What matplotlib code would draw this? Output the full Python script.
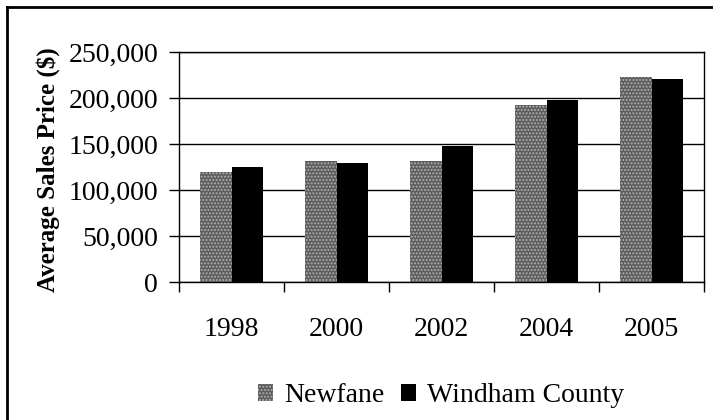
import numpy as np
import matplotlib.pyplot as plt
from matplotlib.ticker import FuncFormatter
from matplotlib.lines import Line2D

# data
years = ['1998', '2000', '2002', '2004', '2005']
newfane = [119500, 131500, 131000, 192500, 222500]
windham = [125500, 129500, 148000, 197500, 220500]

plt.rcParams['font.family'] = ['Liberation Serif', 'DejaVu Serif']

fig = plt.figure(figsize=(7.13, 4.2), dpi=100)
ax = fig.add_axes([179/713, 1 - 282/420, (704 - 179)/713, (282 - 52)/420])

x = np.arange(len(years))
w = 0.3
ax.bar(x - w/2, newfane, w, facecolor='#5c5c5c', edgecolor='#b0b0b0',
       hatch='.....', linewidth=0, label='Newfane', zorder=3)
ax.bar(x + w/2, windham, w, color='black', linewidth=0,
       label='Windham County', zorder=3)

ax.set_xlim(-0.5, len(years) - 0.5)
ax.set_ylim(0, 250000)
ax.set_yticks(np.arange(0, 250001, 50000))
ax.yaxis.set_major_formatter(FuncFormatter(lambda v, p: f'{int(v):,}'))
ax.grid(axis='y', color='black', linewidth=1, zorder=0)

# years centred under each group, tick marks between the groups
ax.set_xticks(x)
ax.set_xticklabels(years)
ax.set_xticks(np.arange(-0.5, len(years)), minor=True)
ax.tick_params(axis='x', which='major', length=0, pad=25, labelsize=20)
ax.tick_params(axis='x', which='minor', length=7, width=1, direction='out')
ax.tick_params(axis='y', length=7, width=1, pad=8, labelsize=20)

for s in ax.spines.values():
    s.set_color('black')
    s.set_linewidth(1)

ax.set_ylabel('Average Sales Price ($)', fontsize=18, fontweight='bold')
ax.yaxis.set_label_coords(-0.227, 0.49)

fig.legend(loc='center', bbox_to_anchor=(441/713, 1 - 396/420), ncol=2,
           frameon=False, fontsize=20, handlelength=0.55, handleheight=0.55,
           handletextpad=0.4, columnspacing=0.6)

# outer frame (right and bottom edges cut off in the original)
fig.add_artist(Line2D([7/713, 7/713], [0, 1 - 7/420], color='black', linewidth=2))
fig.add_artist(Line2D([7/713, 1], [1 - 7/420, 1 - 7/420], color='black', linewidth=2))

fig.savefig('out.png', dpi=100)
